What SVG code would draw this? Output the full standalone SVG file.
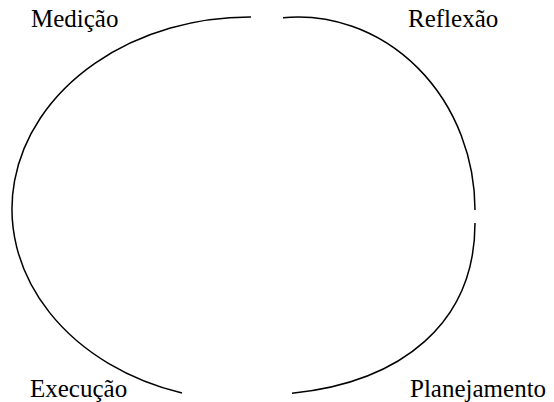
<svg xmlns="http://www.w3.org/2000/svg" width="554" height="402" viewBox="0 0 554 402">
  <style>
    .arc { fill: none; stroke: #000; stroke-width: 1.5; }
  </style>
  <rect width="554" height="402" fill="#fff"/>
  <g id="connectors">
    <path class="arc" d="M 251 17 A 238 192 0 0 0 182 393"/>
    <path class="arc" d="M 283 17.7 A 177 193 0 0 1 475 210"/>
    <path class="arc" d="M 475 223 C 475 323 402 382 292 393.3"/>
  </g>
  <g id="medicao"><text font-family="Liberation Serif, DejaVu Serif, serif" font-size="25" x="31" y="26.5">Medição</text></g>
  <g id="reflexao"><text font-family="Liberation Serif, DejaVu Serif, serif" font-size="25" x="408" y="26.5">Reflexão</text></g>
  <g id="execucao"><text font-family="Liberation Serif, DejaVu Serif, serif" font-size="25" x="30" y="397">Execução</text></g>
  <g id="planejamento"><text font-family="Liberation Serif, DejaVu Serif, serif" font-size="25" x="410" y="397">Planejamento</text></g>
</svg>
